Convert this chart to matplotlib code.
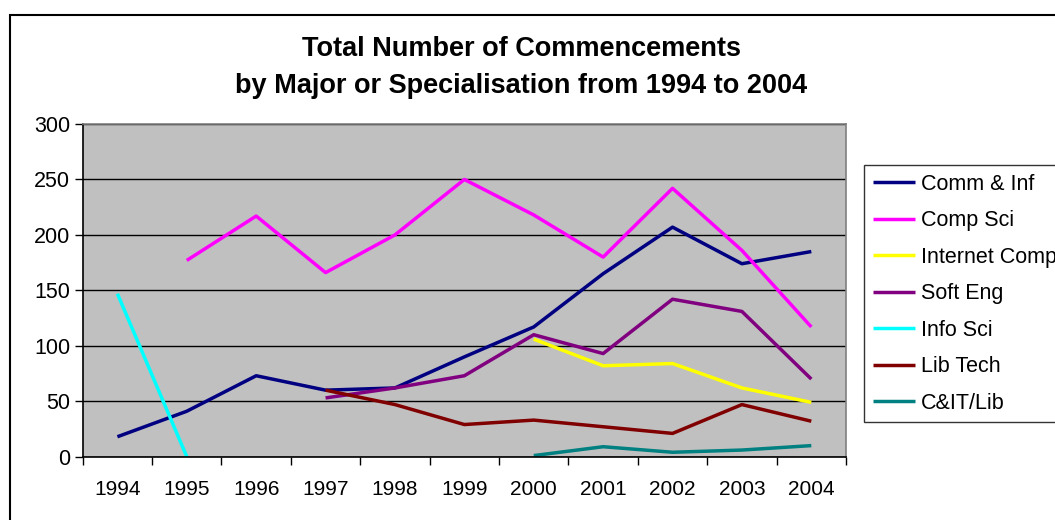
import numpy as np
import matplotlib
matplotlib.use("Agg")
import matplotlib.pyplot as plt
from matplotlib.patches import Rectangle

plt.rcParams['font.family'] = ['Liberation Sans', 'DejaVu Sans']

# data
years = ['1994', '1995', '1996', '1997', '1998', '1999', '2000', '2001', '2002', '2003', '2004']
comm_inf = [18, 41, 73, 60, 62, 90, 117, 165, 207, 174, 185]
comp_sci = [None, 177, 217, 166, 200, 250, 218, 180, 242, 186, 117]
internet_comp = [None, None, None, None, None, None, 106, 82, 84, 62, 49]
soft_eng = [None, None, None, 53, 62, 73, 110, 93, 142, 131, 70]
info_sci = [147, 0, None, None, None, None, None, None, None, None, None]
lib_tech = [None, None, None, 60, 47, 29, 33, 27, 21, 47, 32]
cit_lib = [None, None, None, None, None, None, 1, 9, 4, 6, 10]

series = [
    ('Comm & Inf', comm_inf, '#000080'),
    ('Comp Sci', comp_sci, '#FF00FF'),
    ('Internet Comp', internet_comp, '#FFFF00'),
    ('Soft Eng', soft_eng, '#800080'),
    ('Info Sci', info_sci, '#00FFFF'),
    ('Lib Tech', lib_tech, '#800000'),
    ('C&IT/Lib', cit_lib, '#008080'),
]

fig = plt.figure(figsize=(10.55, 5.2), dpi=100)
# outer chart frame (Excel style)
fig.patches.append(Rectangle((10 / 1055, -0.1), 1.2, 1 - 15 / 520 + 0.1,
                             transform=fig.transFigure, fill=False,
                             edgecolor='black', linewidth=1.5))

ax = fig.add_axes([82.7 / 1055, 1 - 456.7 / 520, (846 - 82.7) / 1055, (456.7 - 124) / 520])
ax.set_facecolor('#C0C0C0')

x = np.arange(len(years))
for name, vals, col in series:
    y = np.array([np.nan if v is None else v for v in vals], dtype=float)
    ax.plot(x, y, color=col, linewidth=2.5, label=name, solid_capstyle='butt')

ax.set_xlim(-0.5, len(years) - 0.5)
ax.set_ylim(0, 300)
ax.set_yticks(np.arange(0, 301, 50))
ax.yaxis.grid(True, color='black', linewidth=1)
ax.set_axisbelow(True)

ax.set_xticks(x)
ax.set_xticklabels(years)
ax.set_xticks(np.arange(-0.5, len(years), 1), minor=True)
ax.tick_params(axis='x', which='major', length=0, pad=17, labelsize=15)
ax.tick_params(axis='x', which='minor', length=6, width=1, color='black')
ax.tick_params(axis='y', length=6, width=1, labelsize=15.5, pad=3)

ax.spines['left'].set_color('black')
ax.spines['bottom'].set_color('black')
ax.spines['top'].set_color('#808080')
ax.spines['right'].set_color('#808080')
for s in ax.spines.values():
    s.set_linewidth(1.2)

fig.text(521 / 1055, 1 - 49 / 520, 'Total Number of Commencements',
         ha='center', va='center', fontsize=19.5, fontweight='bold')
fig.text(521 / 1055, 1 - 86 / 520, 'by Major or Specialisation from 1994 to 2004',
         ha='center', va='center', fontsize=19.5, fontweight='bold')

leg = ax.legend(loc='upper left', bbox_to_anchor=(864 / 1055, 1 - 165 / 520),
                bbox_transform=fig.transFigure, frameon=True, fancybox=False,
                fontsize=15.5, handlelength=1.95, handletextpad=0.3,
                labelspacing=0.72, borderpad=0.4, borderaxespad=0)
leg.get_frame().set_edgecolor('black')
leg.get_frame().set_linewidth(1)

fig.savefig('out.png', dpi=100)
